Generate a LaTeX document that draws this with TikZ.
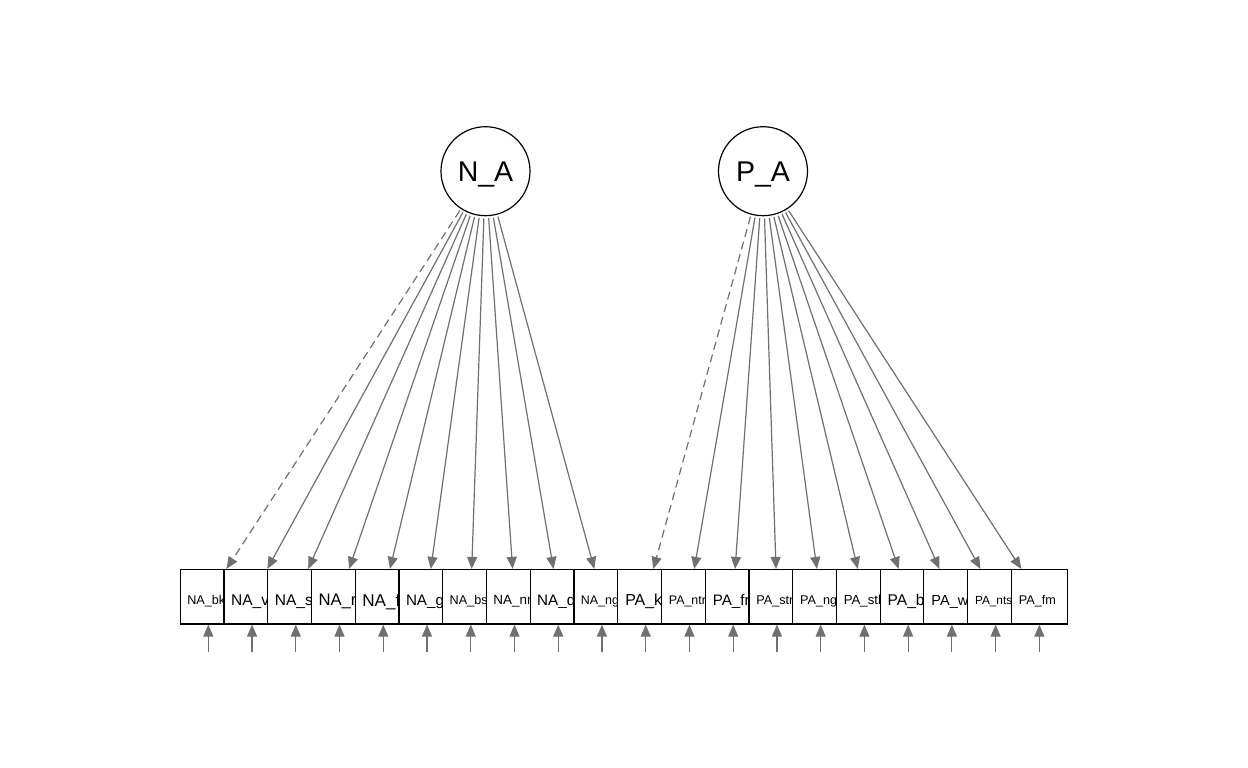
\documentclass[tikz,border=0pt]{standalone}
\usepackage{fontspec}
\setmainfont{Liberation Sans}
\usetikzlibrary{arrows.meta}
\definecolor{arrgray}{RGB}{112,112,112}
\begin{document}
\begin{tikzpicture}[x=1pt,y=-1pt,
  latent/.style={circle,draw=black,line width=1.2pt,fill=white,minimum size=89pt,inner sep=0pt,
    font=\fontsize{28.5}{28.5}\selectfont},
  obsbox/.style={rectangle,draw=black,line width=1.2pt,fill=white,minimum width=56pt,minimum height=54.5pt,inner sep=0pt},
  obslabel/.style={anchor=base,inner sep=0pt},
  loading/.style={draw=arrgray,line width=1.2pt,-{Triangle[length=12pt,width=10pt]},shorten <=2pt},
  fixedload/.style={loading,dash pattern=on 8pt off 5pt},
  resid/.style={draw=arrgray,line width=1.2pt,-{Triangle[length=12pt,width=10pt]}}
]
\useasboundingbox[fill=white] (0,0) rectangle (1248,768);

\node[latent] (NA) at (485.5,171.2) {};
\node[anchor=base,inner sep=0pt,font=\fontsize{28.5}{28.5}\selectfont] (NAl) at (485.5,{171.2+0.358*28.5}) {N\_A};
\node[latent] (PA) at (763,171.2) {};
\node[anchor=base,inner sep=0pt,font=\fontsize{28.5}{28.5}\selectfont] (PAl) at (763,{171.2+0.358*28.5}) {P\_A};

\foreach \i/\s/\t in {0/13.33/NA\_bk,1/16.36/NA\_v,2/16.36/NA\_s,3/17.56/NA\_r,4/17.99/NA\_f,
  5/15.99/NA\_g,6/13.33/NA\_bs,7/14.11/NA\_nr,8/15.99/NA\_d,9/13.08/NA\_ng,
  10/16.74/PA\_k,11/13.08/PA\_ntr,12/15.99/PA\_fr,13/13.33/PA\_str,14/13.32/PA\_ng,
  15/13.84/PA\_stl,16/16.35/PA\_b,17/15.31/PA\_w,18/12.41/PA\_nts,19/13.33/PA\_fm}{
  \pgfmathsetmacro{\cx}{208.3+43.74*\i}
  \pgfmathsetmacro{\fs}{0.95*\s}
  \node[obsbox] (b\i) at (\cx,596.75) {};
  \node[obslabel,font=\fontsize{\fs}{\fs}\selectfont] (l\i) at (\cx-2,{600+0.358*\fs}) {\t};
  \coordinate (r\i) at (\cx,652);
}

\draw[fixedload] (NA) -- (b0);
\foreach \i in {1,...,9}{\draw[loading] (NA) -- (b\i);}
\draw[fixedload] (PA) -- (b10);
\foreach \i in {11,...,19}{\draw[loading] (PA) -- (b\i);}

\foreach \i in {0,...,19}{\draw[resid] (r\i) -- (b\i);}
\end{tikzpicture}
\end{document}
